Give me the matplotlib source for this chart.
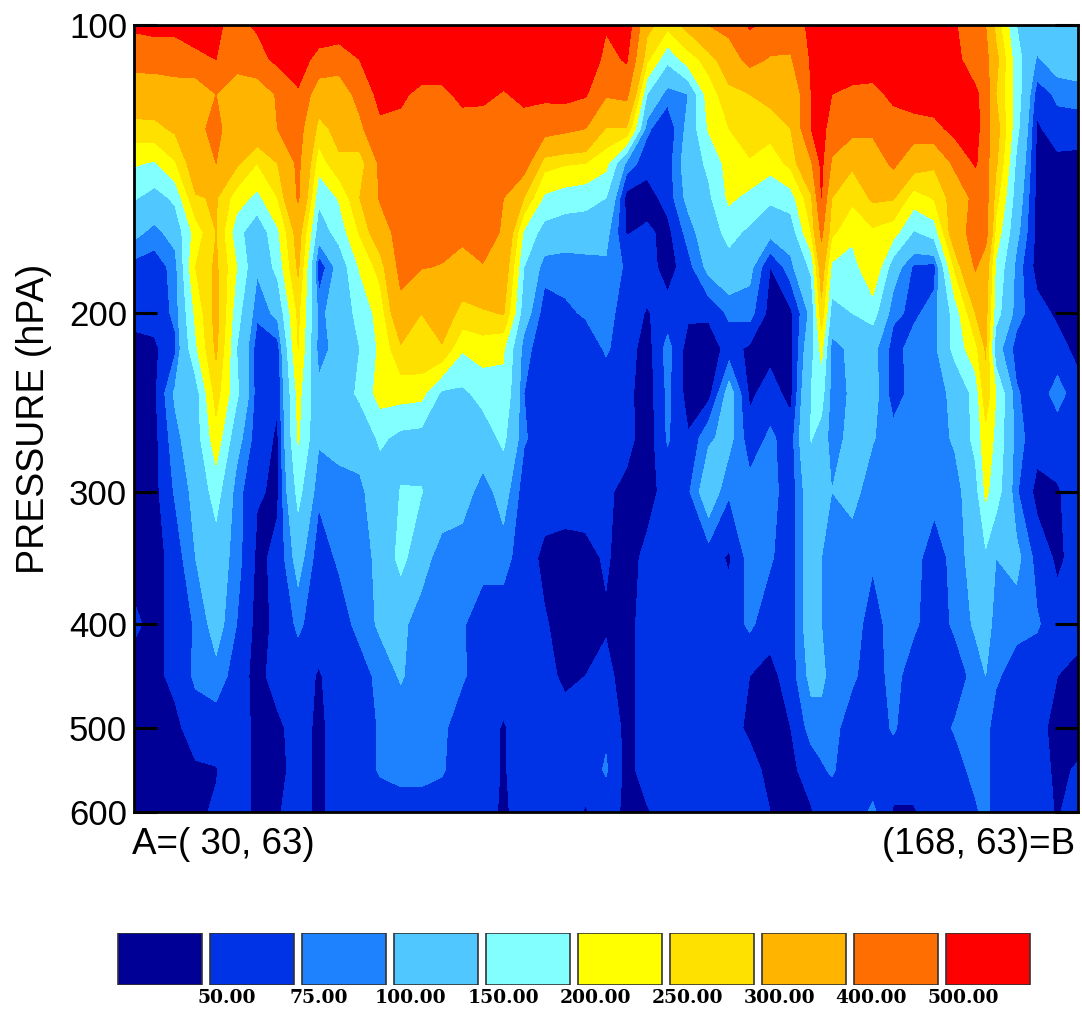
import numpy as np
import matplotlib
matplotlib.use('Agg')
import matplotlib.pyplot as plt

#Longitude along the cross section A-B, every 3 degrees plus two extra columns on the narrow troughs
lons = list(range(30, 130, 3)) + [130.5] + list(range(132, 154, 3)) + [154.5] + list(range(156, 169, 3))

pressures = [100, 112, 124, 136, 148, 160, 172, 184, 200, 220, 245, 270, 300, 350, 400, 450, 500, 550, 600]

#Values, one list per pressure level, from A to B
s100 = [520,530,520,520,510,480,510,540,560,560,570,600,600,600,600,600,600,600,600,600,600,600,600,510,560,320,265,320,400,430,510,480,450,520,600,600,600,600,600,600,600,510,420,400,280,150,130,130,125]
s112 = [430,440,460,490,500,440,470,520,540,470,440,500,540,580,580,580,580,580,580,580,580,580,580,470,510,260,160,225,270,350,430,390,390,510,590,580,580,580,580,580,580,530,440,430,320,170,95,120,125]
s124 = [350,340,340,320,400,340,340,410,490,340,350,430,530,520,470,470,530,530,490,530,520,530,510,410,425,150,85,100,225,280,300,320,310,500,570,500,470,460,530,560,560,550,520,460,300,175,62,80,85]
s136 = [280,285,310,380,420,350,350,400,440,280,320,380,480,470,470,450,450,440,450,450,440,420,400,295,295,80,55,110,205,250,275,270,300,500,545,440,430,420,440,450,470,530,530,450,330,165,45,65,62]
s148 = [205,195,245,340,400,310,250,300,420,220,290,260,420,460,460,460,460,460,460,450,270,255,250,215,90,60,62,120,160,220,245,220,265,390,520,390,310,340,420,330,310,420,510,440,310,140,45,42,42]
s160 = [155,130,160,295,305,225,185,250,410,160,205,300,410,460,460,460,460,460,400,300,190,175,165,150,40,38,60,110,140,210,185,160,175,290,500,300,260,310,305,225,255,330,430,440,270,125,42,40,40]
s172 = [110,90,115,220,300,170,110,190,330,120,170,255,350,440,440,440,440,440,390,190,130,120,125,110,48,55,42,85,125,165,140,110,120,250,420,260,215,240,220,145,170,350,440,440,230,110,42,40,40]
s184 = [65,60,85,250,310,200,105,165,310,55,115,205,270,430,405,395,340,395,350,150,85,85,85,95,70,62,38,65,110,130,110,50,90,160,340,190,175,250,120,70,65,260,410,340,190,90,40,40,40]
s200 = [58,60,80,210,320,170,80,110,260,90,120,165,220,370,300,330,285,290,305,120,62,70,78,85,62,48,60,55,55,80,85,40,45,110,280,130,150,170,80,70,85,170,300,320,170,85,60,45,40]
s220 = [42,45,70,190,310,150,60,62,250,85,115,150,210,290,295,295,205,225,205,85,58,58,60,78,62,38,85,38,35,60,45,42,42,130,215,85,110,110,65,85,90,165,235,305,115,65,50,60,42]
s245 = [40,45,105,125,270,160,60,52,215,110,120,160,220,220,215,140,140,165,190,75,60,60,60,60,58,35,80,40,40,115,45,60,42,150,170,85,105,115,62,85,85,110,165,285,200,78,60,85,60]
s270 = [40,42,90,125,230,115,60,47,205,105,105,110,160,135,130,120,125,125,160,78,60,60,60,60,60,35,78,52,95,110,60,80,62,152,130,80,115,102,85,85,85,105,165,230,190,85,60,60,60]
s300 = [40,42,78,110,170,85,52,47,165,80,95,95,115,152,152,125,118,85,115,62,60,60,58,55,42,42,58,70,125,78,85,85,60,125,120,100,110,85,85,85,85,85,130,210,175,78,42,48,60]
s350 = [40,40,60,100,125,85,45,55,115,60,80,85,110,165,115,85,80,85,85,60,45,42,45,52,42,55,60,60,60,47,85,78,60,125,100,85,85,78,85,85,60,85,115,140,100,110,65,45,60]
s400 = [55,42,58,78,115,75,42,55,80,60,60,85,105,108,85,85,78,60,60,60,52,42,42,48,42,60,60,60,60,60,80,60,60,125,100,85,85,65,85,80,60,80,105,120,85,85,78,60,60]
s450 = [40,45,55,80,90,62,42,60,60,48,60,60,85,103,85,85,78,62,60,60,58,45,50,55,42,60,60,60,60,60,50,42,62,110,110,85,80,60,85,60,60,60,85,100,80,60,60,50,42]
s500 = [40,42,45,60,60,60,45,45,60,45,60,60,78,85,85,80,62,60,48,60,60,60,60,70,42,60,60,60,60,60,45,50,50,85,85,85,60,60,78,60,60,78,85,85,60,60,58,42,42]
s550 = [40,40,42,47,49,60,45,42,60,45,60,62,78,85,85,78,60,60,48,60,72,60,60,78,42,60,60,60,60,60,60,42,45,60,72,78,60,60,60,60,60,62,85,85,60,60,58,46,52]
s600 = [40,40,42,47,52,60,45,48,60,45,60,60,60,60,60,60,60,60,46,60,70,60,48,60,45,48,60,60,60,60,60,50,42,48,60,60,60,80,48,48,60,60,70,85,60,60,60,48,60]

levels = [0, 50, 75, 100, 150, 200, 250, 300, 400, 500, 1000]
level_labels = ['50.00', '75.00', '100.00', '150.00', '200.00', '250.00', '300.00', '400.00', '500.00']
colors = ['#000096', '#0032E6', '#1E82FF', '#50C8FF', '#82FFFF', '#FFFF00', '#FFE100', '#FFB400', '#FF6E00', '#FF0000']

pressure_ticks = [100, 200, 300, 400, 500, 600]
#The vertical axis is neither linear nor log, this is how far down each tick sits
tick_depths = [0.0, 0.366, 0.593, 0.761, 0.893, 1.0]

plt.rcParams['font.family'] = ['Liberation Sans', 'DejaVu Sans']

speed = np.array([s100, s112, s124, s136, s148, s160, s172, s184, s200, s220, s245,
                  s270, s300, s350, s400, s450, s500, s550, s600], dtype=float)

def to_depth(p):
    return np.interp(p, pressure_ticks, tick_depths)

def from_depth(d):
    return np.interp(d, tick_depths, pressure_ticks)

W, H = 1082, 1014
fig = plt.figure(figsize=(W/100, H/100), dpi=100)

#Main cross section
ax = fig.add_axes([134/W, 1 - 812/H, 944/W, 787/H])
ax.set_yscale('function', functions=(to_depth, from_depth))
ax.contourf(lons, pressures, speed, levels=levels, colors=colors)
ax.set_xlim(lons[0], lons[-1])
ax.set_ylim(600, 100)
ax.set_xticks([])
ax.set_yticks(pressure_ticks)
ax.set_yticklabels([str(p) for p in pressure_ticks])
ax.yaxis.set_minor_locator(matplotlib.ticker.NullLocator())
ax.tick_params(axis='y', direction='in', left=True, right=True, length=16.5, width=2.2, labelsize=25, pad=5)
ax.set_ylabel('PRESSURE (hPA)', fontsize=27, labelpad=12)
for spine in ax.spines.values():
    spine.set_linewidth(2)

ax.text(-0.002, -0.0195, 'A=( 30, 63)', transform=ax.transAxes, fontsize=26.5, ha='left', va='top')
ax.text(0.997, -0.0195, '(168, 63)=B', transform=ax.transAxes, fontsize=26.5, ha='right', va='top')

#Colour key below the plot
key = fig.add_axes([113.5/W, 1 - 985/H, 921/W, 52/H])
key.bar(range(len(colors)), 1, width=0.912, color=colors, edgecolor='#333333', linewidth=1.2)
key.set_xlim(-0.5, 9.5)
key.set_ylim(0, 1)
key.set_yticks([])
key.set_xticks(np.arange(len(level_labels)) + 0.73)
key.set_xticklabels(level_labels, family='DejaVu Serif', fontweight='bold', fontsize=13.5)
key.tick_params(axis='x', length=0, pad=3)
for spine in key.spines.values():
    spine.set_visible(False)

plt.savefig('out.png', dpi=100)
